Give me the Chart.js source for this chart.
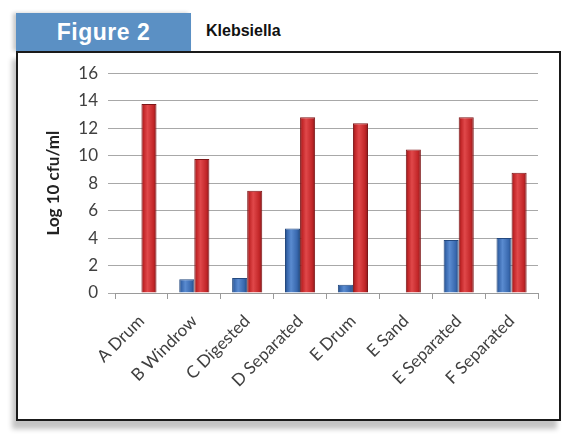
<!DOCTYPE html>
<html>
<head>
<meta charset="utf-8">
<script src="https://cdn.jsdelivr.net/npm/chart.js@4/dist/chart.umd.min.js"></script>
<style>
  html, body { margin: 0; padding: 0; background: #fff; }
  body { width: 575px; height: 446px; position: relative; overflow: hidden; }
  .tab {
    position: absolute; left: 16px; top: 13px; width: 175px; height: 38px;
    background: #5b90c4; box-shadow: -3px 0 4px #c8c8c8;
    color: #fff; font: bold 23px "Liberation Sans", Arial, sans-serif;
    line-height: 38px; text-align: center; letter-spacing: 0.5px;
  }
  .sub {
    position: absolute; left: 206px; top: 22px;
    font: bold 16px "Liberation Sans", Arial, sans-serif; color: #111;
  }
  .frame {
    position: absolute; left: 16px; top: 51px; width: 545px; height: 370px;
    box-sizing: border-box; border: 2px solid #1a1a1a; background: #fff;
    box-shadow: -4px 8px 5px #c4c4c4;
  }
  #wrap { position: absolute; left: 0; top: 0; width: 541px; height: 366px; }
</style>
</head>
<body>
<div class="tab">Figure 2</div>
<div class="sub">Klebsiella</div>
<div class="frame">
  <div id="wrap"><canvas id="chart"></canvas></div>
</div>
<script>
const categories = ['A Drum', 'B Windrow', 'C Digested', 'D Separated', 'E Drum', 'E Sand', 'E Separated', 'F Separated'];
const blueValues = [0, 1.0, 1.1, 4.7, 0.6, 0, 3.85, 4.0];
const redValues = [13.75, 9.75, 7.45, 12.8, 12.35, 10.45, 12.8, 8.75];
const yTicks = [0, 2, 4, 6, 8, 10, 12, 14, 16];

// horizontal shading so the bars look like the rounded Excel columns
const shadeBars = {
  id: 'shadeBars',
  beforeDatasetsDraw(chart) {
    const ctx = chart.ctx;
    chart.data.datasets.forEach((ds, i) => {
      const meta = chart.getDatasetMeta(i);
      meta.data.forEach(bar => {
        const p = bar.getProps(['x', 'width'], true);
        const g = ctx.createLinearGradient(p.x - p.width / 2, 0, p.x + p.width / 2, 0);
        const s = ds.shades;
        g.addColorStop(0, s[0]);
        g.addColorStop(0.15, s[1]);
        g.addColorStop(0.4, s[2]);
        g.addColorStop(0.8, s[1]);
        g.addColorStop(1, s[0]);
        bar.options = Object.assign({}, bar.options, { backgroundColor: g });
      });
    });
  }
};

new Chart(document.getElementById('chart'), {
  type: 'bar',
  data: {
    labels: categories,
    datasets: [
      {
        label: 'Series 1',
        data: blueValues,
        backgroundColor: '#3f70b8',
        borderColor: '#24497f',
        borderWidth: 1,
        shades: ['#24497f', '#3868ae', '#5a8bd0']
      },
      {
        label: 'Series 2',
        data: redValues,
        backgroundColor: '#c92b2e',
        borderColor: '#7e1618',
        borderWidth: 1,
        shades: ['#861a1c', '#c22628', '#e0484a']
      }
    ]
  },
  options: {
    responsive: true,
    maintainAspectRatio: false,
    animation: false,
    layout: { padding: { left: 25, top: 20, right: 21, bottom: 0 } },
    plugins: {
      legend: { display: false },
      tooltip: { enabled: false }
    },
    datasets: {
      bar: { categoryPercentage: 0.57, barPercentage: 1.0 }
    },
    scales: {
      x: {
        grid: { drawOnChartArea: false, drawTicks: true, tickLength: 6, color: '#9a9a9a' },
        border: { color: '#9a9a9a' },
        ticks: {
          maxRotation: 45, minRotation: 45, padding: 12,
          color: '#404040',
          font: { family: 'Lato', size: 17 }
        },
        afterFit(scale) { scale.height = 126; }
      },
      y: {
        min: 0, max: 16,
        afterBuildTicks(scale) { scale.ticks = yTicks.map(v => ({ value: v })); },
        grid: { color: '#a8a8a8', tickLength: 7 },
        border: { display: false },
        ticks: {
          padding: 10,
          color: '#404040',
          font: { family: 'Lato', size: 17 }
        },
        title: {
          display: true,
          text: 'Log 10 cfu/ml',
          color: '#222',
          padding: { top: 0, bottom: 0 },
          font: { family: 'Lato', size: 17, weight: 'bold' }
        },
        afterFit(scale) { scale.width = 72; }
      }
    }
  },
  plugins: [shadeBars]
});
</script>
</body>
</html>
